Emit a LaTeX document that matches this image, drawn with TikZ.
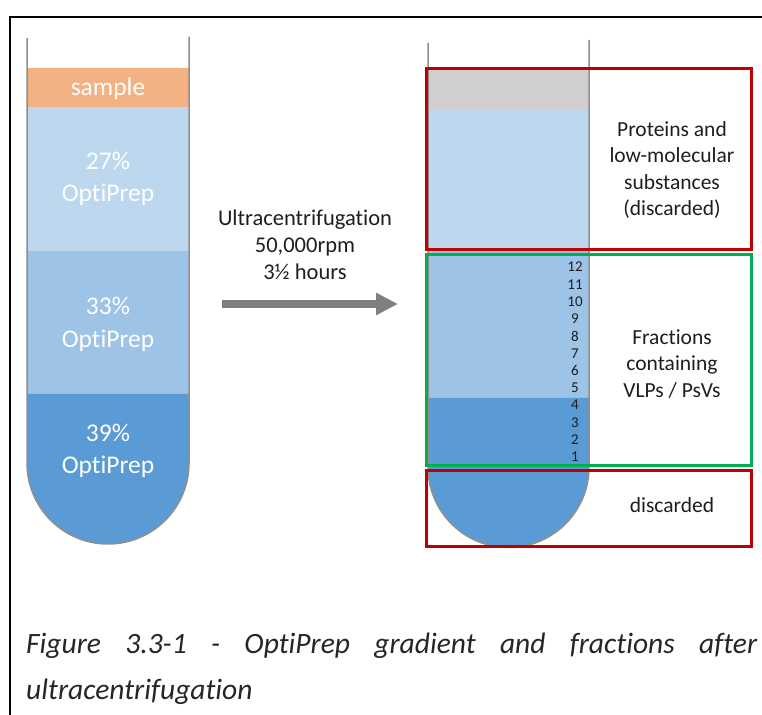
\documentclass[tikz,border=0pt]{standalone}
\usepackage{fontspec}
\setmainfont{Carlito}[Ligatures=NoCommon]
\usetikzlibrary{arrows.meta}
\definecolor{samplec}{HTML}{F4B183}
\definecolor{lowc}{HTML}{BDD7EE}
\definecolor{midc}{HTML}{9DC3E6}
\definecolor{highc}{HTML}{5B9BD5}
\definecolor{grayc}{HTML}{D0CECE}
\definecolor{wallc}{HTML}{8F8F8F}
\definecolor{redc}{HTML}{C00000}
\definecolor{greenc}{HTML}{00B050}
\definecolor{arrowc}{HTML}{7F7F7F}
\definecolor{txtc}{HTML}{1E1E1E}
\tikzset{
  wall/.style={draw=wallc, line width=1.5pt},
  tubetext/.style={text=white, font=\fontsize{25.5}{32.5}\selectfont, align=center, inner sep=0pt},
  sidetext/.style={text=txtc, font=\fontsize{21.5}{26.5}\selectfont, align=center, inner sep=0pt},
  numtext/.style={text=txtc, font=\fontsize{15}{16}\selectfont, inner sep=0pt},
  redbox/.style={draw=redc, line width=3pt},
  greenbox/.style={draw=greenc, line width=3pt},
  captext/.style={text=black!85, font=\fontsize{29.5}{34}\selectfont\itshape, inner sep=0pt, anchor=base west}
}
\begin{document}
\begin{tikzpicture}[x=1pt,y=1pt]
\useasboundingbox (0,0) rectangle (762,714);
% frame
\draw[line width=2.5pt] (10,-2) -- (10,697) -- (764,697);

% left tube
\fill[samplec] (27,646) rectangle (189,607);
\fill[lowc] (27,607) rectangle (189,463);
\fill[midc] (27,463) rectangle (189,320);
\fill[highc] (27,320) -- (27,251) arc (180:360:81) -- (189,320) -- cycle;
\draw[wall] (27,676) -- (27,251) arc (180:360:81) -- (189,677);
\node[tubetext] (ls) at (108,625) {sample};
\node[tubetext] (l27) at (108,535) {27\%\\OptiPrep};
\node[tubetext] (l33) at (108,389.5) {33\%\\OptiPrep};
\node[tubetext] (l39) at (108,263) {39\%\\OptiPrep};

% arrow
\node[sidetext, font=\fontsize{22.5}{27}\selectfont] (arrtxt) at (305,469) {Ultracentrifugation\\50,000rpm\\3½ hours};
\coordinate (arrS) at (222,410);
\coordinate (arrE) at (398,410);
\draw[arrowc, line width=7.5pt, -{Triangle[length=22pt,width=21pt]}] (arrS) -- (arrE);

% right tube
\fill[grayc] (428,644) rectangle (589,604);
\fill[lowc] (428,604) rectangle (589,464);
\fill[midc] (428,464) rectangle (589,316);
\fill[highc] (428,316) -- (428,247) arc (180:360:80.5) -- (589,316) -- cycle;
\draw[wall] (428,671) -- (428,247) arc (180:360:80.5) -- (589,674);

% fraction numbers
\foreach \n in {1,...,12}{
  \node[numtext] (f\n) at (575,{257+(\n-1)*17.27}) {\n};
}

% boxes
\draw[redbox] (426,645) rectangle (751,464);
\draw[greenbox] (426,459) rectangle (751,248);
\draw[redbox] (426,243) rectangle (751,167);

\node[sidetext] (t1) at (672,544) {Proteins and\\low-molecular\\substances\\(discarded)};
\node[sidetext] (t2) at (672,350) {Fractions\\containing\\VLPs / PsVs};
\node[sidetext] (t3) at (672,209) {discarded};

% caption
\node[captext] (cap1) at (26,60) {\makebox[731pt][s]{Figure 3.3-1 - OptiPrep gradient and fractions after}};
\node[captext] (cap2) at (26,14) {ultracentrifugation};
\end{tikzpicture}
\end{document}
